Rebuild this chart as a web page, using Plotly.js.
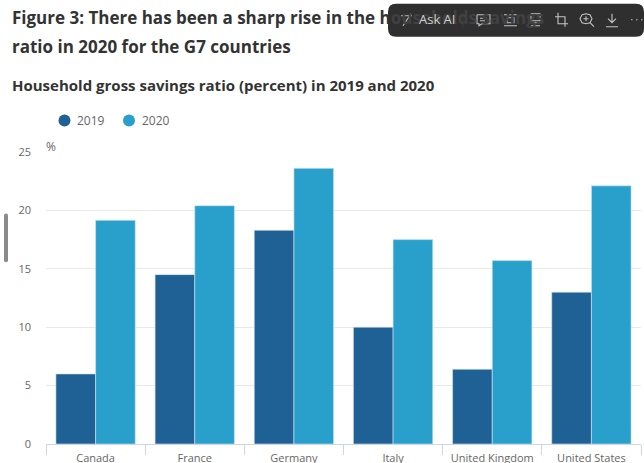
<!DOCTYPE html>
<html><head><meta charset="utf-8">
<script src="https://cdn.plot.ly/plotly-3.0.1.min.js"></script>
<style>html,body{margin:0;padding:0;background:#fff;overflow:hidden}#c{width:644px;height:463px}</style>
</head><body><div id="c"></div>
<script>
const categories = ["Canada","France","Germany","Italy","United Kingdom","United States"];
const values2019 = [6.0,14.5,18.3,10.0,6.4,13.0];
const values2020 = [19.15,20.4,23.6,17.5,15.7,22.1];
const seriesNames = ["2019","2020"];
const colors = ["#1f6095","#28a0cb"];

const W=644,H=463,mL=46,mR=3,mT=151.5,mB=19;
const px=x=>(x-mL)/(W-mL-mR), py=y=>1-(y-mT)/(H-mT-mB);
const label=(x,y,text,size,color,weight,anchor)=>({xref:"paper",yref:"paper",x:px(x),y:py(y),text:text,showarrow:false,
  xanchor:anchor||"left",yanchor:"middle",align:"left",
  font:{family:"'Open Sans',sans-serif",size:size,color:color,weight:weight||400}});
const rect=(x0,y0,x1,y1,r,fill)=>({type:"path",xref:"paper",yref:"paper",layer:"above",fillcolor:fill,line:{width:0},
  path:`M${px(x0+r)},${py(y0)}L${px(x1-r)},${py(y0)}Q${px(x1)},${py(y0)} ${px(x1)},${py(y0+r)}L${px(x1)},${py(y1-r)}Q${px(x1)},${py(y1)} ${px(x1-r)},${py(y1)}L${px(x0+r)},${py(y1)}Q${px(x0)},${py(y1)} ${px(x0)},${py(y1-r)}L${px(x0)},${py(y0+r)}Q${px(x0)},${py(y0)} ${px(x0+r)},${py(y0)}Z`});
const stroke=(pts,col)=>({type:"path",xref:"paper",yref:"paper",layer:"above",line:{color:col||"#c4c4c4",width:1.1},
  path:pts.map((p,i)=>(p===null?"":(i===0||pts[i-1]===null?"M":"L")+px(p[0])+","+py(p[1]))).join("")});
const dot=(cx,cy,r,fill)=>({type:"circle",xref:"paper",yref:"paper",layer:"above",x0:px(cx-r),x1:px(cx+r),y0:py(cy+r),y1:py(cy-r),fillcolor:fill,line:{width:0}});

const traces=[
 {type:"bar",x:categories,y:values2019,name:seriesNames[0],showlegend:false,marker:{color:colors[0],line:{color:"#d5e6f3",width:0.6}}},
 {type:"bar",x:categories,y:values2020,name:seriesNames[1],showlegend:false,marker:{color:colors[1],line:{color:"#d5e6f3",width:0.6}}}
];

const layout={
 width:W,height:H,paper_bgcolor:"#fff",plot_bgcolor:"#fff",
 margin:{l:mL,r:mR,t:mT,b:mB,pad:0},
 barmode:"group",bargap:0.2,bargroupgap:0,
 font:{family:"'Open Sans',sans-serif",color:"#666"},
 xaxis:{type:"category",categories:categories,tickson:"boundaries",ticks:"outside",ticklen:10,tickcolor:"#ccd6eb",tickwidth:1,
   showline:true,linecolor:"#ccd6eb",linewidth:1,showgrid:false,tickfont:{size:11,color:"#666"},ticklabelstandoff:4,fixedrange:true},
 yaxis:{range:[0,25],tickvals:[0,5,10,15,20,25],ticks:"",gridcolor:"#e9e9e9",gridwidth:1,zeroline:false,tickfont:{size:11,color:"#666"},ticklabelstandoff:14,fixedrange:true},
 showlegend:false,
 annotations:[
  label(10,17,"Figure 3: There has been a sharp rise in the h<span style='color:#414141'>ouseholds savings</span>",17,"#333",700),
  label(10,46,"ratio in 2020 for the G7 countries",17,"#333",700),
  label(10,84.5,"Household gross savings ratio (percent) in 2019 and 2020",15,"#333",700),
  label(74.5,120,seriesNames[0],12,"#666"),
  label(139.5,120,seriesNames[1],12,"#666"),
  label(44,145.5,"%",12,"#666"),
  label(417,18,"Ask AI",13,"#d0d0d0")
 ],
 shapes:[
  rect(388,3,644,36,8,"rgba(38,38,38,0.96)"),
  rect(4,213,8,262,2,"#8a8a8a"),
  dot(64.5,120,6,colors[0]),
  dot(129,120,6,colors[1]),
  stroke([[463,12],[463,27]],"#3c3c3c"),
  stroke([[401,15],[412,15],null,[403,25],[411,13]],"#c8c8c8"),
  stroke([[477,14],[490,14],[490,23],[482,23],[479,25],[479,23],[477,23],[477,14],null,[480,17.5],[487,17.5],null,[480,20],[485,20]]),
  stroke([[504,14],[517,14],null,[504,25],[517,25],null,[507,17],[514,17],[514,22],[507,22],[507,17]]),
  stroke([[531,13],[540,13],[540,20],[531,20],[531,13],null,[529,22],[542,22],null,[531,25],[540,25]]),
  stroke([[558,12],[558,23],[568,23],null,[555,16],[565,16],[565,26]]),
  stroke([[582,14],[586,13],[590,14],[592,18],[590,22],[586,23],[582,22],[580,18],[582,14],null,[590,22],[594,26],null,[586,15.5],[586,20.5],null,[583.5,18],[588.5,18]]),
  stroke([[612,13],[612,22],null,[608,18],[612,22],[616,18],null,[606,26],[618,26]]),
  stroke([[631,19],[632.5,19],null,[636,19],[637.5,19],null,[641,19],[642.5,19]])
 ]
};
Plotly.newPlot("c",traces,layout,{displayModeBar:false,staticPlot:true});
</script></body></html>
